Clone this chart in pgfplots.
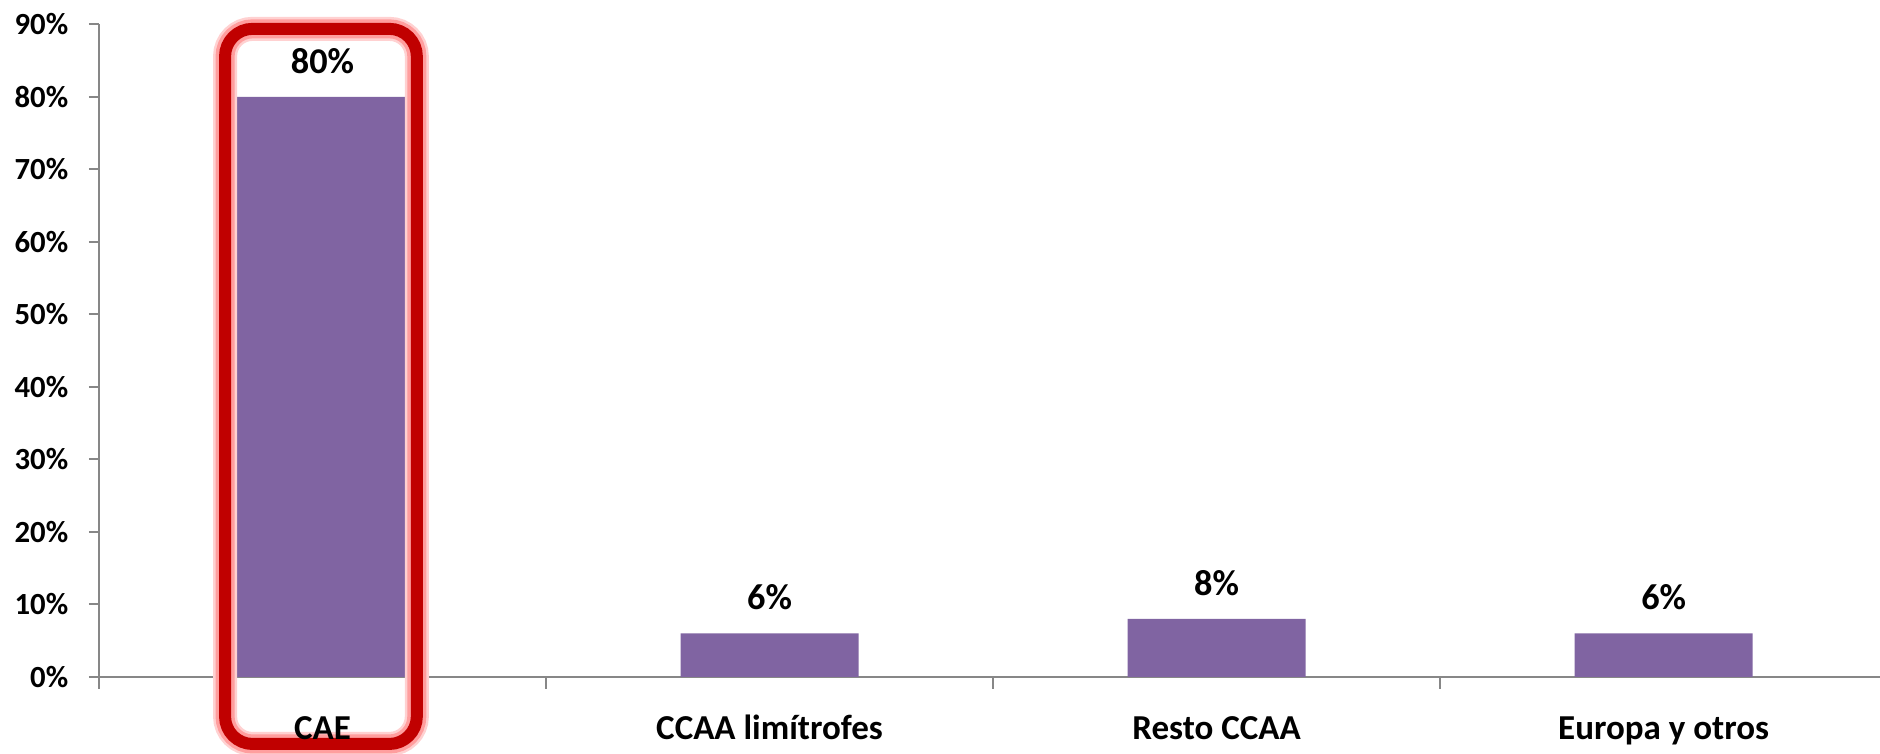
\documentclass[border=0pt]{standalone}
\usepackage{pgfplots}
\pgfplotsset{compat=1.18}
\usepackage{fontspec}
\setmainfont{Carlito}
\definecolor{barpurple}{HTML}{8064A2}
\definecolor{axisgray}{HTML}{878787}
\definecolor{hlred}{HTML}{C00000}
\pgfdeclarelayer{hl}
\pgfplotsset{
    layers/my layers/.define layer set={
        axis background,axis grid,axis ticks,axis lines,pre main,main,hl,
        axis tick labels,axis descriptions,axis foreground
    }{/pgfplots/layers/standard},
}
\begin{document}
\begin{tikzpicture}
\begin{axis}[
    set layers=my layers,
    at={(0,0)}, anchor=south west,
    scale only axis,
    width=712.4pt, height=261pt,
    xmin=-0.5, xmax=3.484,
    ymin=0, ymax=90,
    axis lines*=left,
    axis line style={axisgray, line width=0.8pt},
    ytick={0,10,...,90},
    yticklabels={0\%,10\%,20\%,30\%,40\%,50\%,60\%,70\%,80\%,90\%},
    xtick={0,1,2,3},
    xticklabels={CAE,CCAA limítrofes,Resto CCAA,Europa y otros},
    minor xtick={-0.5,0.5,1.5,2.5},
    tick align=outside,
    major tick length=4pt,
    minor tick length=4.8pt,
    major x tick style={draw=none},
    minor x tick style={axisgray, line width=0.8pt},
    y tick style={axisgray, line width=0.8pt},
    yticklabel style={font=\bfseries\fontsize{12.3}{15}\selectfont, xshift=-4.8pt},
    xticklabel style={font=\bfseries\fontsize{14}{17}\selectfont, anchor=base, yshift=-21pt},
    ybar, bar width=71.2pt,
    point meta=explicit symbolic,
    nodes near coords,
    nodes near coords style={font=\bfseries\fontsize{14.5}{17}\selectfont, black, anchor=base, yshift=9.4pt},
    clip=false,
]
\addplot[fill=barpurple, draw=none] coordinates {
    (0,80) [80\%]
    (1,6) [6\%]
    (2,8) [8\%]
    (3,6) [6\%]
};
% highlight round CAE, under the tick labels
\begin{pgfonlayer}{hl}
\draw[line width=9.6pt, color=red!18, rounded corners=11pt]
    (axis cs:-0.218,-9.24) rectangle (axis cs:0.211,89.4);
\draw[line width=7.6pt, color=red!38, rounded corners=11pt]
    (axis cs:-0.218,-9.24) rectangle (axis cs:0.211,89.4);
\draw[line width=4.8pt, color=hlred, rounded corners=11pt]
    (axis cs:-0.218,-9.24) rectangle (axis cs:0.211,89.4);
\end{pgfonlayer}
\end{axis}
\pgfresetboundingbox
\path[use as bounding box] (-39.6pt,-30.8pt) rectangle (712.4pt,270.8pt);
\end{tikzpicture}
\end{document}
